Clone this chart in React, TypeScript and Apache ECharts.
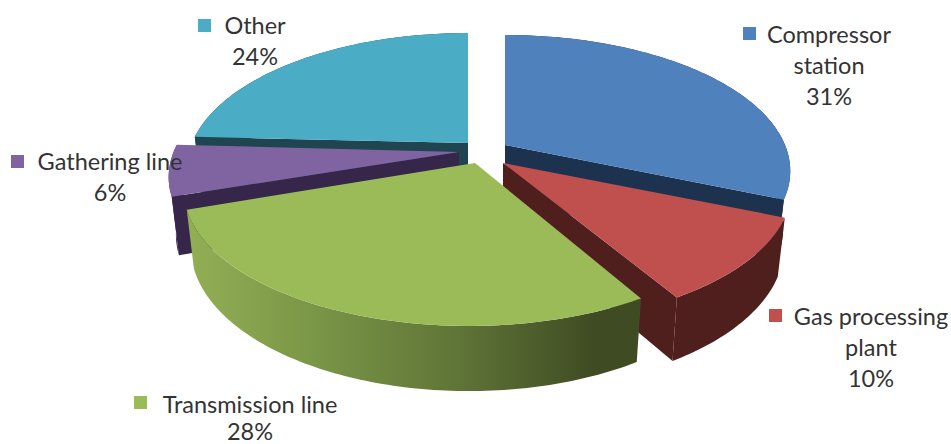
import React, { useEffect, useRef } from "react";
import * as echarts from "echarts";

const categories = ["Compressor\nstation", "Gas processing\nplant", "Transmission line", "Gathering line", "Other"];
const shares = [31, 10, 28, 6, 24];

const topColors = ["#4f81bd", "#c0504d", "#9bbb59", "#8064a2", "#4bacc6"];
const wallColors = ["#1d324f", "#4f1f1e", "#3f4b23", "#35264a", "#1f4550"];
const drawOrder = [4, 0, 3, 1, 2];

// layout of the exploded 3D pie: arc centre x, y, tip x, tip y, horizontal radius
const centerX = [505, 503, 469, 459, 468];
const centerY = [145, 163, 164, 151, 143];
const tipX = [505, 503, 475, 459, 468];
const tipY = [145, 163, 163, 152, 143];
const radiusX = [280, 283, 280, 285, 276];
const BACK = 131;
const PERSPECTIVE = 0.191;
const DEPTH = 56;
const BOTTOM_SHRINK = 0.975;

// label layout
const labelCenterX = [829, 871, 250, 110, 255];
const labelTopY = [18, 300, 390, 145, 9];
const labelLineHeight = [31, 31, 27, 31, 31];
const markerX = [743, 769, 134, 11, 198];
const markerY = [27, 309, 396, 155, 19];

const total = shares.reduce((a, b) => a + b, 0);

function project(i: number, deg: number, bottom: boolean): number[] {
  const t = (deg * Math.PI) / 180;
  const x = Math.sin(t);
  const y = Math.cos(t);
  const w = 1 + PERSPECTIVE * y;
  const k = bottom ? BOTTOM_SHRINK : 1;
  return [
    centerX[i] + (k * radiusX[i] * x) / w,
    centerY[i] - (k * BACK * y) / w + (bottom ? DEPTH / w : 0),
  ];
}

function arc(i: number, a0: number, a1: number, bottom: boolean): number[][] {
  const pts: number[][] = [];
  const n = Math.max(2, Math.ceil(a1 - a0));
  for (let s = 0; s <= n; s++) pts.push(project(i, a0 + ((a1 - a0) * s) / n, bottom));
  return pts;
}

function radialWall(i: number, deg: number, fill: string) {
  const p = project(i, deg, false);
  const q = project(i, deg, true);
  return {
    type: "polygon",
    shape: { points: [[tipX[i], tipY[i]], p, q, [tipX[i], tipY[i] + DEPTH]] },
    style: { fill },
  };
}

function renderSlice(_params: any, api: any) {
  const i = api.value(0) as number;
  const before = shares.slice(0, i).reduce((a, b) => a + b, 0);
  const a0 = (before / total) * 360;
  const a1 = ((before + (api.value(1) as number)) / total) * 360;
  const children: any[] = [];

  // flat walls facing the viewer
  if (Math.cos(((a0 - 90) * Math.PI) / 180) < 0) children.push(radialWall(i, a0, wallColors[i]));
  if (Math.cos(((a1 + 90) * Math.PI) / 180) < 0) children.push(radialWall(i, a1, wallColors[i]));

  // outer curved wall
  const fill =
    i === 2
      ? {
          type: "linear",
          x: 0,
          y: 0,
          x2: 1,
          y2: 0,
          colorStops: [
            { offset: 0, color: "#93af55" },
            { offset: 0.3, color: "#789446" },
            { offset: 0.6, color: "#5f7437" },
            { offset: 0.9, color: "#3f4b23" },
            { offset: 1, color: "#3f4b23" },
          ],
        }
      : wallColors[i];
  children.push({
    type: "polygon",
    shape: { points: [...arc(i, a0, a1, false), ...arc(i, a0, a1, true).reverse()] },
    style: { fill },
  });

  // top face
  children.push({
    type: "polygon",
    shape: { points: [[tipX[i], tipY[i]], ...arc(i, a0, a1, false)] },
    style: { fill: topColors[i] },
  });
  return { type: "group", children };
}

export default function App() {
  const ref = useRef<HTMLDivElement>(null);
  useEffect(() => {
    document.body.style.margin = "0";
    const chart = echarts.init(ref.current!, undefined, { renderer: "svg" });
    const labels: any[] = [];
    categories.forEach((name, i) => {
      labels.push({
        type: "rect",
        z: 20,
        shape: { x: markerX[i], y: markerY[i], width: 13, height: 13 },
        style: { fill: topColors[i] },
      });
      labels.push({
        type: "text",
        z: 21,
        x: labelCenterX[i],
        y: labelTopY[i],
        style: {
          text: `${name}\n${shares[i]}%`,
          fill: "#333333",
          font: "23.5px Lato, sans-serif",
          lineHeight: labelLineHeight[i],
          align: "center",
          verticalAlign: "top",
        },
      });
    });
    chart.setOption({
      animation: false,
      backgroundColor: "#ffffff",
      graphic: labels,
      series: [
        {
          type: "custom",
          coordinateSystem: "none",
          renderItem: renderSlice,
          data: drawOrder.map((i) => [i, shares[i]]),
          silent: true,
        },
      ],
    });
    return () => chart.dispose();
  }, []);
  return <div ref={ref} style={{ width: 951, height: 444 }} />;
}
